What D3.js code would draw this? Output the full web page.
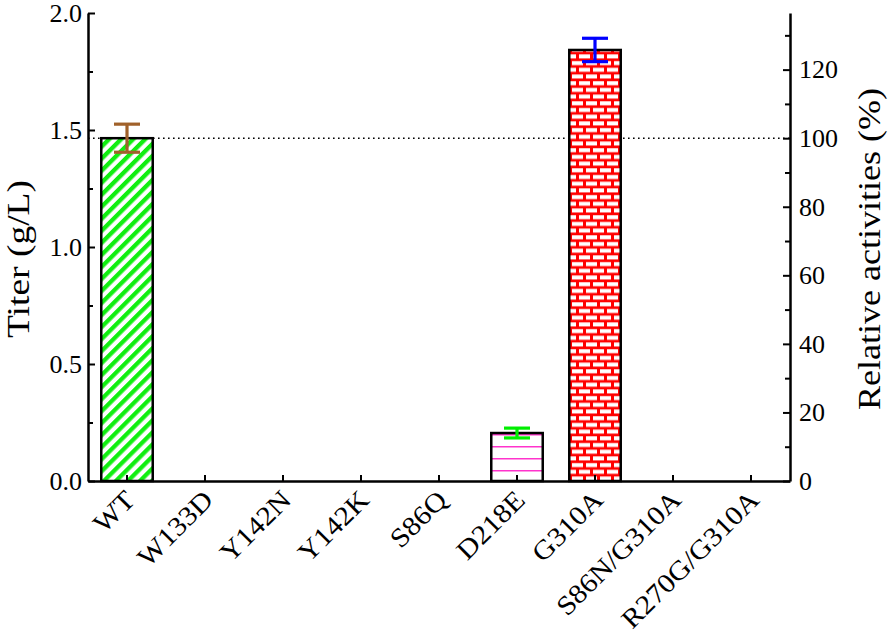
<!DOCTYPE html>
<html>
<head>
<meta charset="utf-8">
<script src="https://cdn.jsdelivr.net/npm/d3@7"></script>
<style>
  body { margin: 0; background: #fff; }
  svg text { font-family: "Liberation Serif", "Times New Roman", serif; fill: #000; }
</style>
</head>
<body>
<div id="graph"></div>
<script>
var categories = ["WT", "W133D", "Y142N", "Y142K", "S86Q", "D218E", "G310A", "S86N/G310A", "R270G/G310A"];
var titer = [1.465, 0, 0, 0, 0, 0.205, 1.842, 0, 0];
var titerErr = [0.06, 0, 0, 0, 0, 0.021, 0.05, 0, 0];
var fills = ["url(#stripes)", "none", "none", "none", "none", "url(#hlines)", "url(#bricks)", "none", "none"];
var errColors = ["#a0612a", null, null, null, null, "#00ee00", "#0000ff", null, null];
var leftTicks = [0, 0.5, 1.0, 1.5, 2.0];
var rightTicks = [0, 20, 40, 60, 80, 100, 120];

var margin = {top: 13, right: 106, bottom: 153, left: 88},
    width = 896 - margin.left - margin.right,
    height = 634 - margin.top - margin.bottom;

var svg = d3.select("#graph")
    .append("svg")
    .attr("width", 896)
    .attr("height", 634);

// patterns
var defs = svg.append("defs");
var p1 = defs.append("pattern")
    .attr("id", "stripes")
    .attr("patternUnits", "userSpaceOnUse")
    .attr("width", 8.5).attr("height", 8.5)
    .attr("patternTransform", "rotate(45)");
p1.append("rect").attr("width", 8.5).attr("height", 8.5).attr("fill", "#fff");
p1.append("rect").attr("width", 4.3).attr("height", 8.5).attr("fill", "#11ee11");

var p2 = defs.append("pattern")
    .attr("id", "hlines")
    .attr("patternUnits", "userSpaceOnUse")
    .attr("width", 10).attr("height", 12)
    .attr("y", margin.top + height);
p2.append("rect").attr("width", 10).attr("height", 12).attr("fill", "#fff");
p2.append("rect").attr("y", 0).attr("width", 10).attr("height", 1.5).attr("fill", "#ff33cc");

var p3 = defs.append("pattern")
    .attr("id", "bricks")
    .attr("patternUnits", "userSpaceOnUse")
    .attr("width", 14).attr("height", 13.4);
p3.append("rect").attr("width", 14).attr("height", 13.4).attr("fill", "#ff0000");
p3.append("rect").attr("x", 1).attr("y", 1.2).attr("width", 11).attr("height", 4).attr("fill", "#fff");
p3.append("rect").attr("x", -6).attr("y", 7.9).attr("width", 11).attr("height", 4).attr("fill", "#fff");
p3.append("rect").attr("x", 8).attr("y", 7.9).attr("width", 11).attr("height", 4).attr("fill", "#fff");

var g = svg.append("g")
    .attr("transform", "translate(" + margin.left + "," + margin.top + ")");

var xScale = d3.scaleBand()
    .domain(categories)
    .range([0, width])
    .paddingInner(0.34)
    .paddingOuter(0.17);
var yScale = d3.scaleLinear()
    .domain([0, 2.0])
    .range([height, 0]);
var yScale2 = d3.scaleLinear()
    .domain([0, 2.0 / titer[0] * 100])
    .range([height, 0]);

// 100% reference line
g.append("line")
    .attr("x1", 0)
    .attr("x2", width)
    .attr("y1", yScale2(100))
    .attr("y2", yScale2(100))
    .attr("stroke", "#000")
    .attr("stroke-width", 1.6)
    .attr("stroke-dasharray", "1.6,3.4");

// bars
categories.forEach(function(c, i) {
    if (titer[i] <= 0) return;
    g.append("rect")
        .attr("x", xScale(c))
        .attr("y", yScale(titer[i]))
        .attr("width", xScale.bandwidth())
        .attr("height", height - yScale(titer[i]))
        .attr("fill", fills[i])
        .attr("stroke", "#000")
        .attr("stroke-width", 2.5);
});

// error bars
categories.forEach(function(c, i) {
    if (titerErr[i] <= 0) return;
    var cx = xScale(c) + xScale.bandwidth() / 2,
        top = yScale(titer[i] + titerErr[i]),
        bot = yScale(titer[i] - titerErr[i]),
        cap = 13;
    var eg = g.append("g")
        .attr("stroke", errColors[i])
        .attr("stroke-width", 3.2);
    eg.append("line").attr("x1", cx).attr("x2", cx).attr("y1", top).attr("y2", bot);
    eg.append("line").attr("x1", cx - cap).attr("x2", cx + cap).attr("y1", top).attr("y2", top);
    eg.append("line").attr("x1", cx - cap).attr("x2", cx + cap).attr("y1", bot).attr("y2", bot);
});

// left axis
var yaxis = d3.axisLeft(yScale)
    .tickValues(leftTicks)
    .tickFormat(d3.format(".1f"))
    .tickSizeInner(-7)
    .tickSizeOuter(0)
    .tickPadding(6);
var ya = g.append("g").attr("class", "y axis").call(yaxis);
g.append("g")
    .call(d3.axisLeft(yScale).tickValues([0.25, 0.75, 1.25, 1.75]).tickSize(-5).tickFormat(""))
    .call(function(s) { s.select(".domain").remove(); });

// right axis
var yaxis2 = d3.axisRight(yScale2)
    .tickValues(rightTicks)
    .tickSizeInner(-7)
    .tickSizeOuter(0)
    .tickPadding(9);
var ya2 = g.append("g")
    .attr("class", "y axis")
    .attr("transform", "translate(" + width + ",0)")
    .call(yaxis2);
g.append("g")
    .attr("transform", "translate(" + width + ",0)")
    .call(d3.axisRight(yScale2).tickValues([10, 30, 50, 70, 90, 110, 130]).tickSize(-5).tickFormat(""))
    .call(function(s) { s.select(".domain").remove(); });

// x axis
var xaxis = d3.axisBottom(xScale)
    .tickSizeInner(-6)
    .tickSizeOuter(0);
var xa = g.append("g")
    .attr("class", "x axis")
    .attr("transform", "translate(0," + height + ")")
    .call(xaxis);

svg.selectAll(".domain").attr("stroke-width", 2.5).attr("stroke", "#000");
svg.selectAll(".tick line").attr("stroke-width", 2).attr("stroke", "#000");
svg.selectAll(".axis").attr("font-family", null).attr("font-size", null);

ya.selectAll("text").style("font-size", "26px");
ya2.selectAll("text").style("font-size", "26px");
xa.selectAll("text")
    .style("font-size", "27px")
    .attr("x", 0)
    .attr("y", 0)
    .attr("dy", "0.35em")
    .attr("text-anchor", "end")
    .attr("transform", "translate(3,14) rotate(-45) scale(1.1,1)");

// axis titles
svg.append("text")
    .attr("transform", "translate(18,259) rotate(-90)")
    .attr("text-anchor", "middle")
    .attr("dy", "0.35em")
    .attr("textLength", 158)
    .attr("lengthAdjust", "spacingAndGlyphs")
    .style("font-size", "32px")
    .text("Titer (g/L)");
svg.append("text")
    .attr("transform", "translate(869,249) rotate(-90)")
    .attr("text-anchor", "middle")
    .attr("dy", "0.35em")
    .attr("textLength", 322)
    .attr("lengthAdjust", "spacingAndGlyphs")
    .style("font-size", "32px")
    .text("Relative activities (%)");
</script>
</body>
</html>
